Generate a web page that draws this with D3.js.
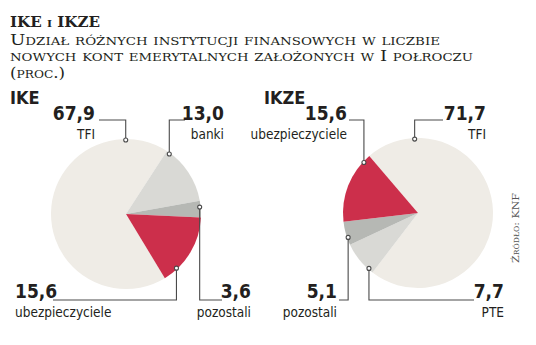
<!DOCTYPE html>
<html>
<head>
<meta charset="utf-8">
<script src="https://cdn.jsdelivr.net/npm/d3@7"></script>
<style>
  html, body { margin: 0; padding: 0; background: #fff; }
  svg { display: block; }
  .num { font-family: "Liberation Sans Narrow", "DejaVu Sans Condensed", "Roboto", sans-serif; font-weight: bold; font-size: 19px; fill: #231f20; }
  .lab { font-family: "Liberation Sans Narrow", "DejaVu Sans Condensed", "Roboto", sans-serif; font-size: 13.5px; fill: #231f20; }
  .head { font-family: "Liberation Sans Narrow", "DejaVu Sans Condensed", sans-serif; font-weight: bold; font-size: 18px; fill: #231f20; }
  .title { font-family: "DejaVu Serif", "Liberation Serif", serif; font-weight: bold; font-size: 14px; fill: #231f20; }
  .sub { font-family: "DejaVu Serif", "Liberation Serif", serif; font-variant: small-caps; font-size: 15px; fill: #231f20; }
  .src { font-family: "DejaVu Serif", "Liberation Serif", serif; font-variant: small-caps; font-size: 10px; fill: #555; }
</style>
</head>
<body>
<script>
// Shares of new retirement accounts by institution type, first half-year (%)
const ikeCategories  = ["TFI", "banki", "pozostali", "ubezpieczyciele"];
const ikeValues      = [67.9, 13.0, 3.6, 15.6];
const ikzeCategories = ["TFI", "PTE", "pozostali", "ubezpieczyciele"];
const ikzeValues     = [71.7, 7.7, 5.1, 15.6];

const subtitleLines = [
  "Udział różnych instytucji finansowych w liczbie",
  "nowych kont emerytalnych założonych w I połroczu",
  "(proc.)"
];
const sourceText = "Źródło: KNF";

const colors = {
  "TFI": "#efece6",
  "banki": "#d9d9d5",
  "PTE": "#d9d9d5",
  "pozostali": "#b6b8b4",
  "ubezpieczyciele": "#cc2f4b"
};

const W = 536, H = 345;
const svg = d3.select("body").append("svg").attr("width", W).attr("height", H);

// Heading
const title = svg.append("text").attr("class", "title").attr("x", 10).attr("y", 27)
  .attr("textLength", 90).attr("lengthAdjust", "spacingAndGlyphs");
title.append("tspan").text("IKE ");
title.append("tspan").style("font-variant", "small-caps").text("i");
title.append("tspan").text(" IKZE");

const subWidths = [430, 463, 55];
subtitleLines.forEach((s, i) => {
  svg.append("text").attr("class", "sub").attr("x", 10).attr("y", 44.5 + i * 16.5).text(s)
    .attr("textLength", subWidths[i]).attr("lengthAdjust", "spacingAndGlyphs");
});

// Source, rotated along the right edge
svg.append("text").attr("class", "src")
  .attr("transform", "translate(519,228) rotate(-90)")
  .attr("text-anchor", "middle").attr("textLength", 70).attr("lengthAdjust", "spacingAndGlyphs")
  .text(sourceText);

const deg = d => d * Math.PI / 180;

function drawPie(cx, cy, r, cats, vals, startDeg, heading, headX, labels) {
  svg.append("text").attr("class", "head").attr("x", headX).attr("y", 104).text(heading);

  const data = cats.map((c, i) => ({ cat: c, value: vals[i] }));
  const total = d3.sum(vals);
  const pie = d3.pie().sort(null).value(d => d.value)
    .startAngle(deg(startDeg)).endAngle(deg(startDeg) + 2 * Math.PI * total / 100);
  const arc = d3.arc().innerRadius(0).outerRadius(r);
  const g = svg.append("g").attr("transform", `translate(${cx},${cy})`);
  const arcs = pie(data);
  g.selectAll("path").data(arcs).join("path")
    .attr("d", arc).attr("fill", d => colors[d.data.cat]);

  // Leader lines with value and name; each starts on the rim of its slice
  labels.forEach(L => {
    const a = arcs.find(d => d.data.cat === L.cat);
    const ang = a.startAngle + (a.endAngle - a.startAngle) * L.frac;
    const px = cx + Math.sin(ang) * (r - 1);
    const py = cy - Math.cos(ang) * (r - 1);
    const yLine = L.top ? 120 : 300;
    svg.append("path")
      .attr("d", `M${px},${py}V${yLine}H${L.lineEnd}`)
      .attr("fill", "none").attr("stroke", "#4a4a4a").attr("stroke-width", 1.1);
    svg.append("circle").attr("cx", px).attr("cy", py).attr("r", 2)
      .attr("fill", "#fff").attr("stroke", "#4a4a4a").attr("stroke-width", 1.1);
    const val = vals[cats.indexOf(L.cat)];
    const yNum = L.top ? 120 : 298;
    svg.append("text").attr("class", "num").attr("x", L.tx).attr("y", yNum)
      .attr("text-anchor", L.anchor).text(d3.format(".1f")(val).replace(".", ","));
    svg.append("text").attr("class", "lab").attr("x", L.tx).attr("y", yNum + 19)
      .attr("text-anchor", L.anchor).text(L.cat);
  });
}

drawPie(126, 214, 75, ikeCategories, ikeValues, 148.8, "IKE", 10, [
  { cat: "TFI", frac: 0.864, top: true, lineEnd: 99, tx: 95, anchor: "end" },
  { cat: "banki", frac: 0.06, top: true, lineEnd: 185, tx: 224, anchor: "end" },
  { cat: "ubezpieczyciele", frac: 0.79, top: false, lineEnd: 53, tx: 15, anchor: "start" },
  { cat: "pozostali", frac: 0.38, top: false, lineEnd: 222, tx: 251, anchor: "end" }
]);

drawPie(418, 213, 75, ikzeCategories, ikzeValues, 319.5, "IKZE", 264, [
  { cat: "TFI", frac: 0.147, top: true, lineEnd: 443, tx: 486, anchor: "end" },
  { cat: "ubezpieczyciele", frac: 0.885, top: true, lineEnd: 349, tx: 347, anchor: "end" },
  { cat: "pozostali", frac: 0.31, top: false, lineEnd: 339, tx: 337, anchor: "end" },
  { cat: "PTE", frac: 0.15, top: false, lineEnd: 474, tx: 504, anchor: "end" }
]);
</script>
</body>
</html>
